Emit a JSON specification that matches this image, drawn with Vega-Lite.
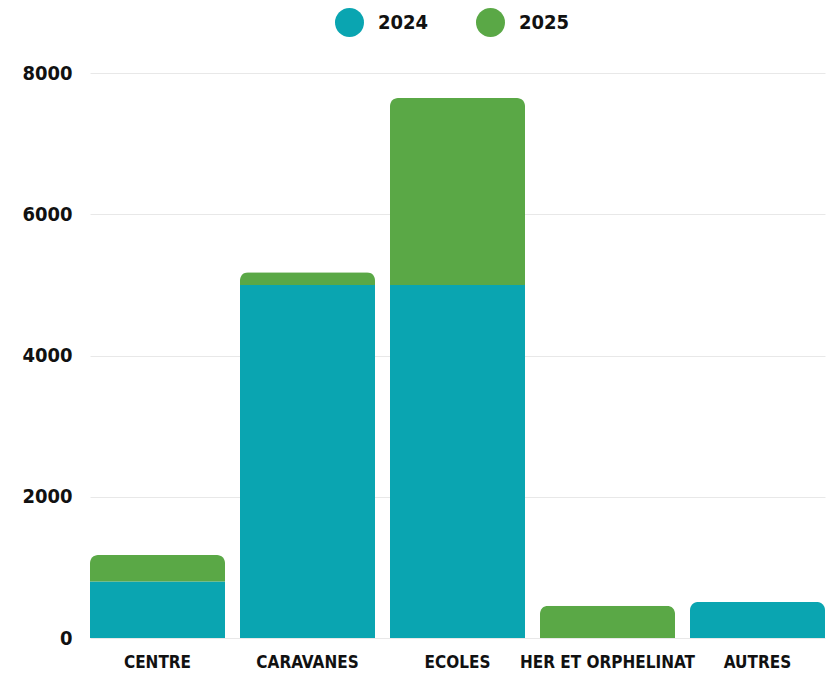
{
  "$schema": "https://vega.github.io/schema/vega-lite/v6.json",
  "width": 735,
  "height": 565,
  "autosize": {"type": "none"},
  "padding": {"left": 90, "top": 73, "right": 11, "bottom": 38},
  "background": "white",
  "data": {
    "values": [
      {"cat": "CENTRE", "year": "2024", "value": 800},
      {"cat": "CENTRE", "year": "2025", "value": 375},
      {"cat": "CARAVANES", "year": "2024", "value": 5000},
      {"cat": "CARAVANES", "year": "2025", "value": 180},
      {"cat": "ECOLES", "year": "2024", "value": 5000},
      {"cat": "ECOLES", "year": "2025", "value": 2645},
      {"cat": "HER ET ORPHELINAT", "year": "2024", "value": 0},
      {"cat": "HER ET ORPHELINAT", "year": "2025", "value": 455},
      {"cat": "AUTRES", "year": "2024", "value": 510},
      {"cat": "AUTRES", "year": "2025", "value": 0}
    ]
  },
  "mark": {"type": "bar", "cornerRadiusEnd": 8},
  "encoding": {
    "x": {
      "field": "cat",
      "type": "nominal",
      "sort": null,
      "scale": {"paddingInner": 0.1, "paddingOuter": 0},
      "axis": {
        "title": null,
        "labelAngle": 0,
        "domain": false,
        "ticks": false,
        "labelPadding": 16,
        "labelLimit": 0,
        "labelFont": "DejaVu Sans Condensed",
        "labelFontWeight": "bold",
        "labelFontSize": 17,
        "labelColor": "#111111"
      }
    },
    "y": {
      "field": "value",
      "type": "quantitative",
      "stack": "zero",
      "scale": {"domain": [0, 8000], "nice": false},
      "axis": {
        "title": null,
        "values": [0, 2000, 4000, 6000, 8000],
        "format": "d",
        "domain": false,
        "ticks": false,
        "labelPadding": 18,
        "labelFont": "DejaVu Sans Condensed",
        "labelFontWeight": "bold",
        "labelFontSize": 20,
        "labelColor": "#111111",
        "gridColor": "#e8e8e8"
      }
    },
    "color": {
      "field": "year",
      "type": "nominal",
      "scale": {"domain": ["2024", "2025"], "range": ["#0aa5b1", "#5aa846"]},
      "legend": {
        "title": null,
        "orient": "none",
        "direction": "horizontal",
        "legendX": 245,
        "legendY": -65,
        "padding": 0,
        "symbolType": "circle",
        "symbolSize": 841,
        "symbolStrokeWidth": 0,
        "symbolOpacity": 1,
        "labelOffset": 14,
        "columnPadding": 47,
        "labelFont": "DejaVu Sans Condensed",
        "labelFontWeight": "bold",
        "labelFontSize": 20,
        "labelColor": "#111111"
      }
    },
    "order": {"field": "year"}
  },
  "config": {"view": {"stroke": null}}
}
